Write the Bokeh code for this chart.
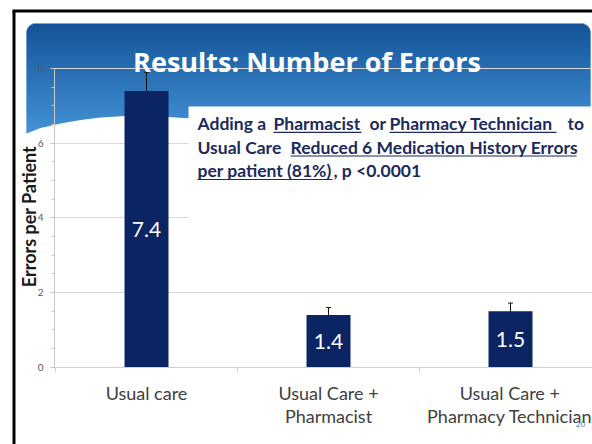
import numpy as np
from bokeh.plotting import figure
from bokeh.models import (Range1d, LinearAxis, FixedTicker, Grid, Whisker,
                          ColumnDataSource, TeeHead, Label)
from bokeh.core.properties import value
from bokeh.embed import file_html
from bokeh.resources import INLINE

# ---------------- data ----------------
categories = ["Usual care", "Usual Care +\nPharmacist", "Usual Care +\nPharmacy Technician"]
errors_per_patient = [7.4, 1.4, 1.5]
error_half_width = [0.5, 0.2, 0.22]
y_ticks = [0, 2, 4, 6, 8]
y_minor_ticks = [0.5, 1, 1.5, 2.5, 3, 3.5, 4.5, 5, 5.5, 6.5, 7, 7.5]
category_edges = [0, 1, 2, 3]
grid_ticks = [2, 4, 6, 8]
title_text = "Results: Number of Errors"
y_label = "Errors per Patient"
slide_number = "20"
note_segments = ["Adding a", "Pharmacist", "or", "Pharmacy Technician", "to",
                 "Usual Care", "Reduced 6 Medication History Errors",
                 "per patient (81%)", ", p <0.0001"]

# ---------------- layout helpers (window pixels -> data) ----------------
W, H = 592, 444
OX, OY = 0, 0
X0_PX, UNIT_X = 55.0, 182.0
Y0_PX, UNIT_Y = 366.8, 37.35


def px(X):
    return (X - X0_PX) / UNIT_X


def py(Y):
    return (Y0_PX - Y) / UNIT_Y


p = figure(width=W, height=H, output_backend="svg", toolbar_location=None,
           x_range=Range1d(px(OX), px(OX + W)), y_range=Range1d(py(OY + H), py(OY)),
           x_axis_type=None, y_axis_type=None, min_border=0,
           outline_line_color=None, background_fill_color="white",
           border_fill_color="white")

# ---------------- slide header (gradient band) ----------------
top_px, bot_px = 23, 137
ys = np.arange(top_px, bot_px)
c_top = np.array([20, 84, 152])
c_bot = np.array([70, 148, 216])
cols, lefts, rights = [], [], []
r = 9.0
for Y in ys:
    t = (Y - top_px) / (bot_px - top_px)
    c = np.round(c_top + (c_bot - c_top) * t).astype(int)
    cols.append("#%02x%02x%02x" % tuple(c))
    d = Y + 0.5 - top_px
    off = r - np.sqrt(max(r * r - (r - d) ** 2, 0)) if d < r else 0.0
    lefts.append(26 + off)
    rights.append(590 - off)
p.quad(left=[px(v) for v in lefts], right=[px(v) for v in rights],
       top=[py(Y) for Y in ys], bottom=[py(Y + 1.6) for Y in ys],
       fill_color=cols, line_color=None, level="image")

wave_x = [14, 26, 40, 60, 80, 100, 125, 150, 175, 200, 200, 14]
wave_y = [136, 133, 127.5, 123, 119.5, 117, 115.5, 115.5, 117, 118.5, 140, 140]
p.patch([px(v) for v in wave_x], [py(v) for v in wave_y], fill_color="white",
        line_color=None, level="image")

# slide frame
p.segment(x0=[px(13.5), px(12)], y0=[py(450), py(10.5)], x1=[px(13.5), px(620)],
          y1=[py(10.5), py(10.5)], line_color="black", line_width=3)

# grid
grid = Grid(dimension=1, ticker=FixedTicker(ticks=grid_ticks), grid_line_color="#d9d9d9",
            grid_line_width=1, cross_bounds=(px(52), px(620)))
p.add_layout(grid)

# white note box
p.quad(left=px(188), right=px(620), top=py(106), bottom=py(255), fill_color="white",
       line_color=None)

# ---------------- bars ----------------
xc = [i + 0.5 for i in range(len(categories))]
p.vbar(x=xc, top=errors_per_patient, width=44 / UNIT_X, fill_color="#0b2463",
       line_color=None)

src = ColumnDataSource(dict(
    x=xc,
    upper=[v + e for v, e in zip(errors_per_patient, error_half_width)],
    lower=[v - e for v, e in zip(errors_per_patient, error_half_width)]))
p.add_layout(Whisker(base="x", upper="upper", lower="lower", source=src,
                     line_color="#111111", line_width=1,
                     upper_head=TeeHead(size=5, line_color="#111111", line_width=1),
                     lower_head=TeeHead(size=5, line_color="#111111", line_width=1)))

p.text(x=xc, y=[v / 2 for v in errors_per_patient],
       text=["%.1f" % v for v in errors_per_patient], text_align="center",
       text_baseline="middle", text_color="white", text_font=value("Lato"),
       text_font_size="21px")

# ---------------- axes ----------------
yaxis = LinearAxis(fixed_location=px(54), bounds=(0, 8),
                   ticker=FixedTicker(ticks=y_ticks, minor_ticks=y_minor_ticks),
                   axis_line_color="#c8c8c8", major_tick_line_color="#c8c8c8",
                   minor_tick_line_color="#c8c8c8", major_tick_out=4, major_tick_in=0,
                   minor_tick_out=3, minor_tick_in=0, major_label_standoff=7,
                   major_label_text_font="Lato", major_label_text_font_size="10px",
                   major_label_text_color="#595959")
p.add_layout(yaxis, "left")
p.add_layout(Label(x=px(28), y=py(216), text=y_label, angle=np.pi / 2,
                   text_align="center", text_baseline="middle", text_color="#1a1a1a",
                   text_font="Lato", text_font_style="bold", text_font_size="18px"))

xaxis = LinearAxis(fixed_location=0, bounds=(px(52), px(620)),
                   ticker=FixedTicker(ticks=xc, minor_ticks=category_edges),
                   major_label_overrides={x: c for x, c in zip(xc, categories)},
                   axis_line_color="#d0d0d0", minor_tick_line_color="#d0d0d0",
                   major_tick_out=0, major_tick_in=0, minor_tick_out=5, minor_tick_in=0,
                   major_label_standoff=10, major_label_text_line_height=1.05,
                   major_label_text_font="Lato", major_label_text_font_size="18px",
                   major_label_text_color="#404040")
p.add_layout(xaxis, "below")

# ---------------- texts ----------------
p.add_layout(Label(x=px(306.5), y=py(60.5), text=title_text, text_align="center",
                   text_baseline="middle", text_color="white", text_font="Open Sans",
                   text_font_style="bold", text_font_size="27px"))

seg_x = [197, 273, 369, 389, 567, 197, 290, 197, 333]
seg_y = [123] * 5 + [146.5] * 2 + [170] * 2
p.text(x=[px(v) for v in seg_x], y=[py(v) for v in seg_y], text=note_segments,
       text_align="left", text_baseline="middle", text_color="#1c2a5c",
       text_font=value("Lato"), text_font_style="bold", text_font_size="17.5px")
ul = [(273, 361, 131.8), (389, 556, 131.8), (290, 576, 155.5), (197, 332, 179)]
p.segment(x0=[px(a) for a, b, c in ul], x1=[px(b) for a, b, c in ul],
          y0=[py(c) for a, b, c in ul], y1=[py(c) for a, b, c in ul],
          line_color="#1c2a5c", line_width=1.2)

p.add_layout(Label(x=px(580), y=py(423), text=slide_number, text_align="center",
                   text_baseline="middle", text_color="#3a8fb7", text_font="Lato",
                   text_font_size="8px"))

open("out.html", "w").write(file_html(p, INLINE))
